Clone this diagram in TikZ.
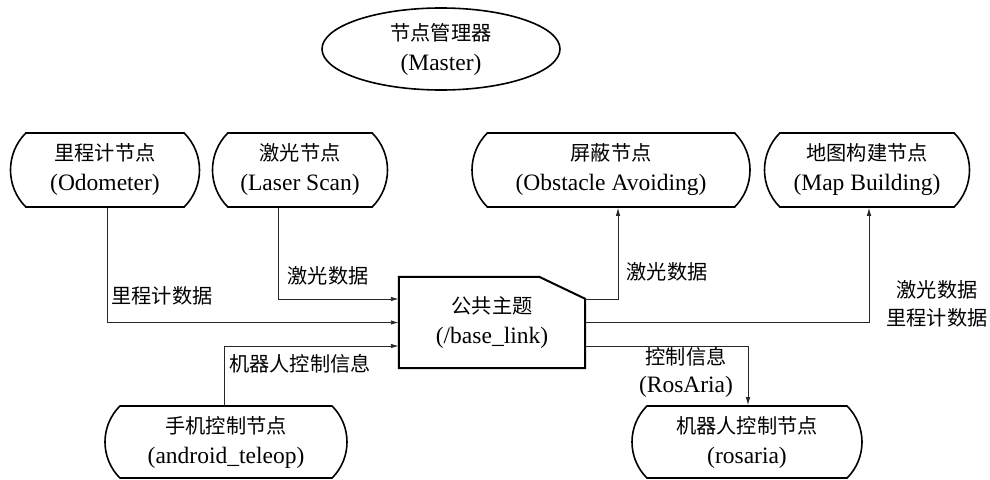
\documentclass[tikz,border=0pt]{standalone}
\usepackage{fontspec}
\setmainfont{Liberation Serif}
\newfontfamily\cjk{Noto Sans CJK SC}[Scale=0.86]
\usetikzlibrary{shapes.misc,shapes.geometric,arrows.meta}
\begin{document}
\begin{tikzpicture}[x=1pt,y=-1pt,
  every node/.style={font=\fontsize{23.5}{30}\selectfont, align=center, inner sep=0pt},
  rnode/.style={rounded rectangle, rounded rectangle arc length=90, draw, line width=1.6pt, minimum height=74pt},
  conn/.style={line width=0.9pt, draw=black!85},
  arr/.style={conn, -{Latex[length=8pt,width=4.5pt]}},
  lbl/.style={font=\fontsize{23.5}{28}\selectfont}]
\useasboundingbox (0,0) rectangle (990,479);
% master
\node[ellipse, draw, line width=1.6pt, minimum width=238pt, minimum height=82pt] (master) at (441,49) {{\cjk 节点管理器}\\(Master)};
% top nodes
\node[rnode, minimum width=189pt] (odo) at (105,170) {{\cjk 里程计节点}\\(Odometer)};
\node[rnode, minimum width=175pt] (laser) at (300,170) {{\cjk 激光节点}\\(Laser Scan)};
\node[rnode, minimum width=278pt] (obst) at (611,170) {{\cjk 屏蔽节点}\\(Obstacle Avoiding)};
\node[rnode, minimum width=205pt] (map) at (867,170) {{\cjk 地图构建节点}\\(Map Building)};
% bottom nodes
\node[rnode, minimum width=242pt, minimum height=72pt] (andr) at (226,442) {{\cjk 手机控制节点}\\(android\_teleop)};
\node[rnode, minimum width=230pt, minimum height=72pt] (ros) at (747,442) {{\cjk 机器人控制节点}\\(rosaria)};
% central box
\node[minimum width=186pt, minimum height=91pt] (box) at (492,322.5) {{\cjk 公共主题}\\(/base\_link)};
\draw[line width=2pt, line join=miter] (box.south west) -- (box.north west) -- ([xshift=-46pt]box.north east) -- ([yshift=-22pt]box.north east) -- (box.south east) -- cycle;
% connectors
\draw[arr] ([xshift=-22pt]laser.south) |- ([yshift=23.5pt]box.west);
\draw[arr] ([xshift=2pt]odo.south) |- (box.west);
\draw[arr] ([xshift=-2pt]andr.north) |- ([yshift=-23.5pt]box.west);
\draw[arr] ([yshift=23.5pt]box.east) -| ([xshift=7pt]obst.south);
\draw[arr] (box.east) -| ([xshift=2pt]map.south);
\draw[arr] ([yshift=-23.5pt]box.east) -| ([xshift=1pt]ros.north);
% labels
\node[lbl] (l1) at (162,296) {\cjk 里程计数据};
\node[lbl] (l2) at (328,276) {\cjk 激光数据};
\node[lbl] (l3) at (300,364) {\cjk 机器人控制信息};
\node[lbl] (l4) at (667,272) {\cjk 激光数据};
\node[lbl] (l5) at (937,304) {{\cjk 激光数据}\\{\cjk 里程计数据}};
\node[lbl] (l6) at (686,372) {{\cjk 控制信息}\\(RosAria)};
\end{tikzpicture}
\end{document}
